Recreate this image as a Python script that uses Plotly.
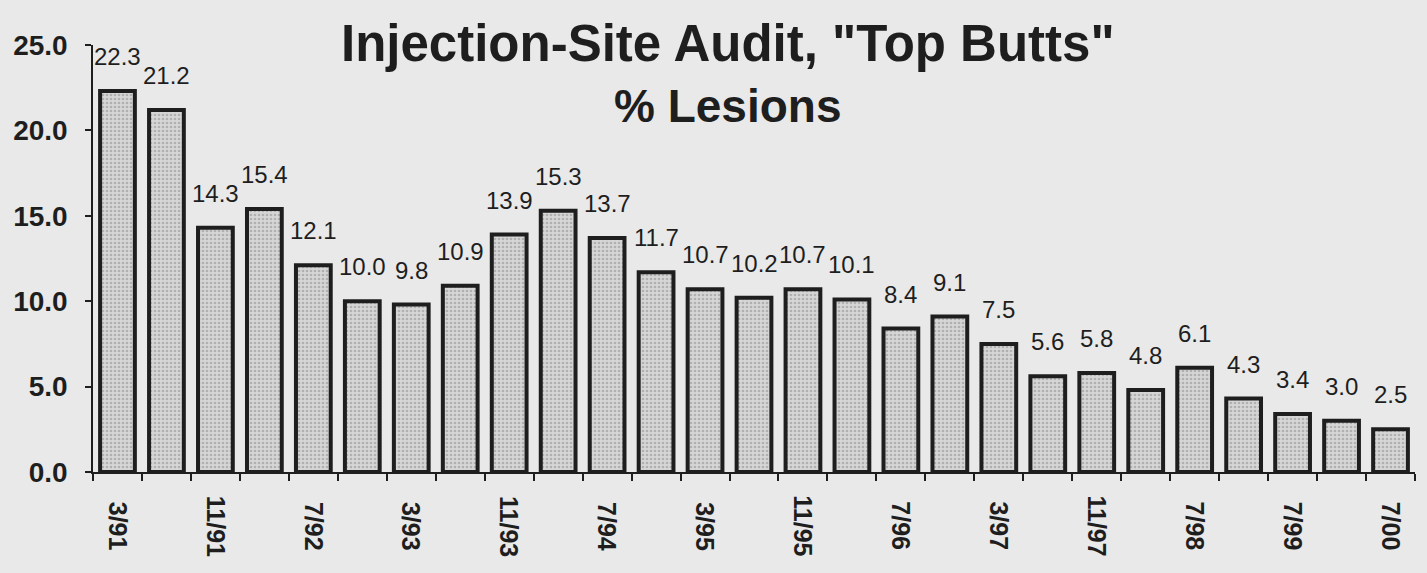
import plotly.graph_objects as go

dates = ["3/91", "7/91", "11/91", "3/92", "7/92", "11/92", "3/93", "7/93", "11/93",
         "3/94", "7/94", "11/94", "3/95", "7/95", "11/95", "3/96", "7/96", "11/96",
         "3/97", "7/97", "11/97", "3/98", "7/98", "1/99", "7/99", "1/00", "7/00"]
lesions = [22.3, 21.2, 14.3, 15.4, 12.1, 10.0, 9.8, 10.9, 13.9, 15.3, 13.7, 11.7,
           10.7, 10.2, 10.7, 10.1, 8.4, 9.1, 7.5, 5.6, 5.8, 4.8, 6.1, 4.3, 3.4, 3.0, 2.5]
label_every = 2

idx = list(range(len(dates)))
BG = "#e9e9e9"
INK = "#1e1e1e"
FONT = "Liberation Sans, Arial, sans-serif"

fig = go.Figure()
fig.add_trace(go.Bar(
    x=idx, y=lesions,
    marker=dict(color="#cfcfcf",
                line=dict(color=INK, width=4),
                pattern=dict(shape=".", fgcolor="#8a8a8a", bgcolor="#d6d6d6",
                             size=4, solidity=0.35)),
    hoverinfo="y",
))

# value labels above bars
for i, v in zip(idx, lesions):
    fig.add_annotation(x=i, y=v, text=f"{v:.1f}", showarrow=False,
                       yanchor="bottom", yshift=19,
                       font=dict(family=FONT, size=24, color=INK))

# category labels (every other date), rotated and vertically centred
for i, d in zip(idx, dates):
    if i % label_every == 0:
        fig.add_annotation(x=i, xref="x", yref="paper", y=-0.127,
                           text=f"<b>{d}</b>", textangle=90, showarrow=False,
                           xanchor="center", yanchor="middle",
                           font=dict(family=FONT, size=25, color=INK))

fig.add_annotation(xref="paper", yref="paper", x=0.48, y=1.0, yanchor="middle",
                   xanchor="center", yshift=2,
                   text='<b>Injection-Site Audit, "Top Butts"</b>', showarrow=False,
                   font=dict(family=FONT, size=51, color=INK))
fig.add_annotation(xref="paper", yref="paper", x=0.48, y=1.0, yanchor="middle",
                   xanchor="center", yshift=-61,
                   text='<b>% Lesions</b>', showarrow=False,
                   font=dict(family=FONT, size=46, color=INK))

fig.update_layout(
    width=1411, height=557,
    margin=dict(l=85, r=4, t=37, b=93, autoexpand=False),
    paper_bgcolor=BG, plot_bgcolor=BG,
    bargap=0.29,
    showlegend=False,
    xaxis=dict(range=[-0.5, len(dates) - 0.5], automargin=False,
               tickvals=idx, showticklabels=False, ticks="",
               showgrid=False, zeroline=False,
               showline=True, linecolor=INK, linewidth=1.5,
               minor=dict(tick0=0.5, dtick=1, ticks="outside", ticklen=7,
                          tickcolor=INK, tickwidth=1.5, showgrid=False)),
    yaxis=dict(range=[0, 25], dtick=5, tickformat=".1f", automargin=False,
               ticks="outside", ticklen=6, tickcolor=INK, tickwidth=1.5,
               ticklabelstandoff=12,
               tickfont=dict(family=FONT, size=28, color=INK, weight="bold"),
               showgrid=False, zeroline=False,
               showline=True, linecolor=INK, linewidth=1.5),
)

fig.write_html("out.html", post_script="document.body.style.background='%s';" % BG)
